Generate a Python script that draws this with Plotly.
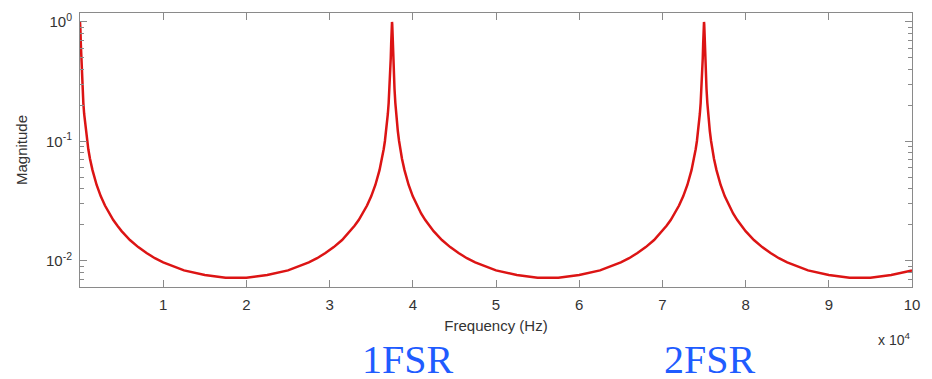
import plotly.graph_objects as go

# Frequency samples (Hz) and magnitude
freq_hz = [
    # rise-off from the DC peak
    0, 25, 50, 100, 150, 200, 250, 300, 400, 500, 700, 850, 1000, 1200, 1500, 2000,
    2500, 3000, 3500, 4000, 4500, 5000, 6000, 7000, 8000, 9000, 10000, 12500, 15000,
    17500, 18750,
    # approach to 1 FSR
    20000, 22500, 25000, 27500, 28500, 29500, 30500, 31500, 32500, 33000, 33500,
    34000, 34500, 35000, 35500, 36000, 36300, 36500, 36650, 36800, 37000, 37100,
    37200, 37250, 37300, 37350, 37400, 37450, 37475, 37500,
    # after 1 FSR
    37525, 37550, 37600, 37650, 37700, 37750, 37800, 37900, 38000, 38200, 38350,
    38500, 38700, 39000, 39500, 40000, 40500, 41000, 41500, 42000, 42500, 43500,
    44500, 45500, 46500, 47500, 50000, 52500, 55000, 56250,
    # approach to 2 FSR
    57500, 60000, 62500, 65000, 66000, 67000, 68000, 69000, 70000, 70500, 71000,
    71500, 72000, 72500, 73000, 73500, 73800, 74000, 74150, 74300, 74500, 74600,
    74700, 74750, 74800, 74850, 74900, 74950, 74975, 75000,
    # after 2 FSR
    75025, 75050, 75100, 75150, 75200, 75250, 75300, 75400, 75500, 75700, 75850,
    76000, 76200, 76500, 77000, 77500, 78000, 78500, 79000, 79500, 80000, 81000,
    82000, 83000, 84000, 85000, 87500, 90000, 92500, 93750, 95000, 97500, 100000,
]
magnitude = [
    1.0, 0.9602, 0.8644, 0.6519, 0.4972, 0.3949, 0.3252, 0.2755, 0.2101, 0.1695,
    0.1220, 0.1007, 0.0858, 0.0716, 0.0574, 0.0431, 0.0346, 0.0290, 0.0249, 0.0219,
    0.0196, 0.0177, 0.0149, 0.0130, 0.0116, 0.0105, 0.0097, 0.0083, 0.0076, 0.0072,
    0.0072,
    0.0072, 0.0076, 0.0083, 0.0097, 0.0105, 0.0116, 0.0130, 0.0149, 0.0177, 0.0196,
    0.0219, 0.0249, 0.0290, 0.0346, 0.0431, 0.0574, 0.0716, 0.0858, 0.1007, 0.1220,
    0.1695, 0.2101, 0.2755, 0.3252, 0.3949, 0.4972, 0.6519, 0.8644, 0.9602, 1.0,
    0.9602, 0.8644, 0.6519, 0.4972, 0.3949, 0.3252, 0.2755, 0.2101, 0.1695, 0.1220,
    0.1007, 0.0858, 0.0716, 0.0574, 0.0431, 0.0346, 0.0290, 0.0249, 0.0219, 0.0196,
    0.0177, 0.0149, 0.0130, 0.0116, 0.0105, 0.0097, 0.0083, 0.0076, 0.0072, 0.0072,
    0.0072, 0.0076, 0.0083, 0.0097, 0.0105, 0.0116, 0.0130, 0.0149, 0.0177, 0.0196,
    0.0219, 0.0249, 0.0290, 0.0346, 0.0431, 0.0574, 0.0716, 0.0858, 0.1007, 0.1220,
    0.1695, 0.2101, 0.2755, 0.3252, 0.3949, 0.4972, 0.6519, 0.8644, 0.9602, 1.0,
    0.9602, 0.8644, 0.6519, 0.4972, 0.3949, 0.3252, 0.2755, 0.2101, 0.1695, 0.1220,
    0.1007, 0.0858, 0.0716, 0.0574, 0.0431, 0.0346, 0.0290, 0.0249, 0.0219, 0.0196,
    0.0177, 0.0149, 0.0130, 0.0116, 0.0105, 0.0097, 0.0083, 0.0076, 0.0072, 0.0072,
    0.0072, 0.0076, 0.0083,
]

x_tickvals = [10000, 20000, 30000, 40000, 50000, 60000, 70000, 80000, 90000, 100000]
x_ticktext = ["1", "2", "3", "4", "5", "6", "7", "8", "9", "10"]
y_tickvals = [0.01, 0.1, 1]
y_ticktext = ["10<sup>-2</sup>", "10<sup>-1</sup>", "10<sup>0</sup>"]
fsr_labels = ["1FSR", "2FSR"]
fsr_label_pos = [0.394, 0.757]

axis_grey = "#8a8a8a"
text_grey = "#333333"

fig = go.Figure()
fig.add_trace(go.Scatter(
    x=freq_hz, y=magnitude, mode="lines",
    line=dict(color="#dc1414", width=2.5),
    showlegend=False, hoverinfo="skip",
))

# The page body has an 8px margin, so the figure is sized/offset to compensate.
fig.update_layout(
    width=924, height=371,
    margin=dict(l=72, r=20, t=5, b=92, autoexpand=False),
    paper_bgcolor="white", plot_bgcolor="white",
    font=dict(family="Liberation Sans, Arial, sans-serif", size=15, color=text_grey),
    xaxis=dict(
        range=[0, 100000], tickvals=x_tickvals, ticktext=x_ticktext,
        ticks="inside", ticklen=7, tickcolor=axis_grey, tickwidth=1,
        showline=True, linecolor=axis_grey, linewidth=1, mirror="ticks",
        showgrid=False, zeroline=False, automargin=False, ticklabelstandoff=4,
        title=dict(text="Frequency (Hz)", font=dict(size=15, color=text_grey), standoff=8),
        tickfont=dict(size=15, color=text_grey),
    ),
    yaxis=dict(
        type="log", range=[-2.22, 0.075], tickvals=y_tickvals, ticktext=y_ticktext,
        ticks="inside", ticklen=7, tickcolor=axis_grey, tickwidth=1,
        showline=True, linecolor=axis_grey, linewidth=1, mirror="ticks",
        showgrid=False, zeroline=False, automargin=False, ticklabelstandoff=4,
        minor=dict(ticks="inside", ticklen=4, tickcolor=axis_grey, tickwidth=1,
                   dtick="D1", showgrid=False),
        title=dict(text="Magnitude", font=dict(size=15, color=text_grey), standoff=14),
        tickfont=dict(size=15, color=text_grey),
    ),
)

fig.add_annotation(
    text="x 10<sup>4</sup>", xref="paper", yref="paper", x=1.0, y=-0.19,
    xanchor="right", yanchor="middle", showarrow=False,
    font=dict(size=14, color=text_grey),
)
for label, pos in zip(fsr_labels, fsr_label_pos):
    fig.add_annotation(
        text=label, xref="paper", yref="paper", x=pos, y=-0.266,
        xanchor="center", yanchor="middle", showarrow=False,
        font=dict(family="Liberation Serif, Times New Roman, serif", size=40, color="#1f5cff"),
    )

fig.write_html("out.html")
